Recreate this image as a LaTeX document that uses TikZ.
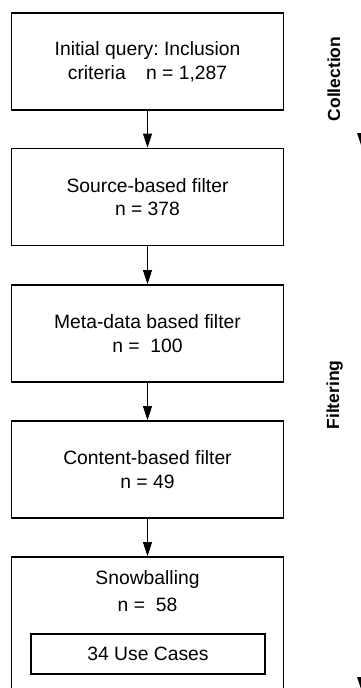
\documentclass[tikz,border=0pt]{standalone}
\usepackage{fontspec}
\setmainfont{Liberation Sans}
\usetikzlibrary{arrows.meta}
\frenchspacing

\tikzset{
  stage/.style={draw,line width=1.8pt,minimum width=272pt,minimum height=97pt,inner sep=0pt,align=center,font=\fontsize{19.3}{23.5}\selectfont},
  phase/.style={rotate=90,anchor=base,font=\fontsize{17.5}{20}\selectfont\bfseries},
  flow/.style={line width=0.9pt,-{Triangle[length=14pt,width=9pt]}}
}

\begin{document}
\begin{tikzpicture}[x=1pt,y=-1pt]
  \useasboundingbox (0,0) rectangle (361,688);
  \node[stage] (query) at (147.5,61.5) {Initial query: Inclusion\\criteria\hspace{15pt} n = 1,287};
  \node[stage] (source) at (147.5,197) {Source-based filter\\n = 378};
  \node[stage] (meta) at (147.5,333.5) {Meta-data based filter\\n =\ \ 100};
  \node[stage] (content) at (147.5,469.5) {Content-based filter\\n = 49};
  \node[stage,minimum height=143pt] (snow) at (147.5,628.5) {};
  \node[align=center,font=\fontsize{19.3}{27}\selectfont] (snowtext) at (147.5,591.5) {Snowballing\\n =\ \ 58};
  \node[stage,minimum width=234pt,minimum height=40pt] (cases) at (148,654) {34 Use Cases};
  \draw[flow] (query.south) -- (source.north);
  \draw[flow] (source.south) -- (meta.north);
  \draw[flow] (meta.south) -- (content.north);
  \draw[flow] (content.south) -- (snow.north);
  \node[phase] (collection) at (340,79) {Collection};
  \node[phase] (filtering) at (339,395) {Filtering};
  \fill (357,133) -- (366,133) -- (361.5,146.5) -- cycle;
  \fill (357,677) -- (366,677) -- (361.5,690.5) -- cycle;
\end{tikzpicture}
\end{document}
